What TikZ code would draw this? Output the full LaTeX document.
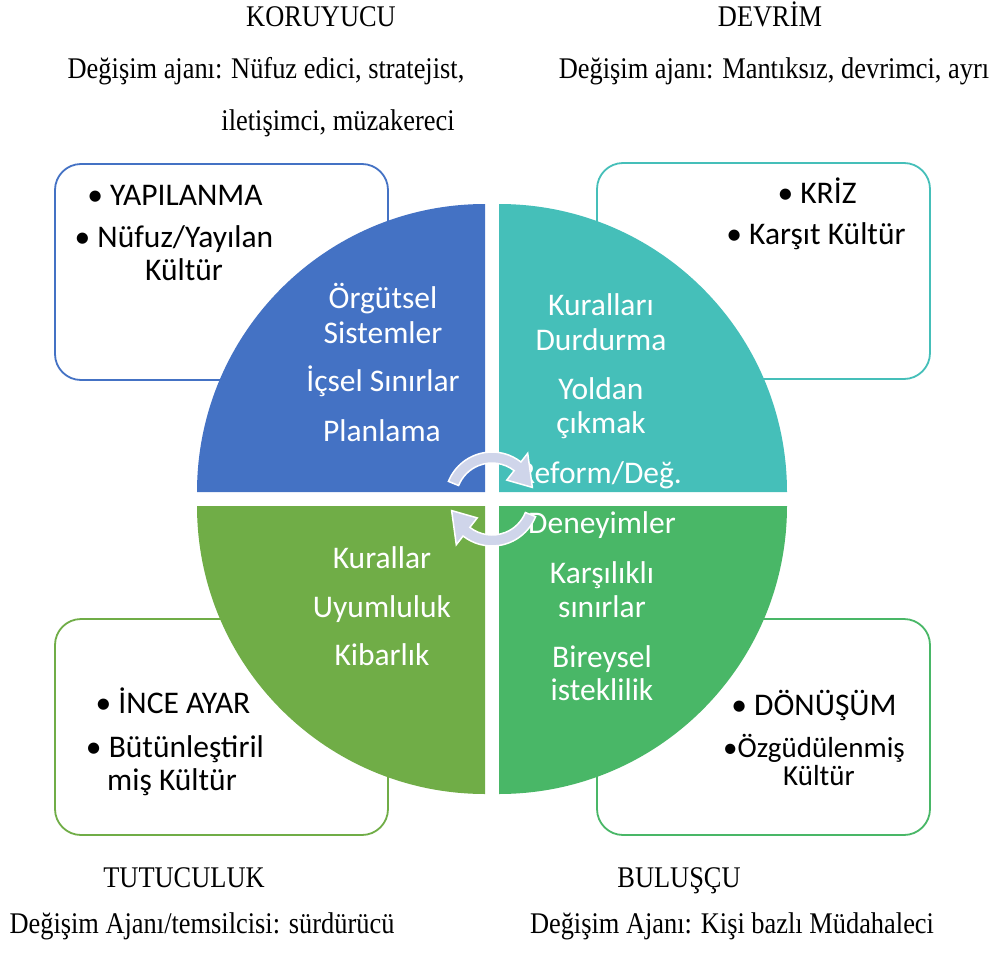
\documentclass[tikz,border=0pt]{standalone}
\usepackage{fontspec}
\setmainfont{Liberation Serif}
\newfontfamily\carlito{Carlito}
\usetikzlibrary{calc}
\definecolor{qblue}{RGB}{68,114,196}
\definecolor{qteal}{RGB}{69,191,185}
\definecolor{qgreen}{RGB}{112,173,71}
\definecolor{qlime}{RGB}{73,183,103}
\definecolor{qarrow}{RGB}{207,213,234}
\tikzset{
  hdtext/.style={anchor=base,inner sep=0pt,font=\fontsize{30}{34}\selectfont,xscale=0.88,transform shape},
  btext/.style={anchor=base,inner sep=0pt,font=\carlito\fontsize{31.5}{34}\selectfont},
  stext/.style={btext,font=\carlito\fontsize{29}{32}\selectfont},
  wtext/.style={btext,text=white},
  card/.style={line width=1.8pt,rounded corners=26pt,fill=white},
  cycarrow/.style={fill=qarrow,draw=white,line width=1.5pt}
}

\begin{document}
\begin{tikzpicture}[x=1pt,y=1pt]
	\useasboundingbox (0,0) rectangle (994,-953);
	% headings
	\node[hdtext] (koru) at (321,-26) {KORUYUCU};
	\node[hdtext] (koruA) at (266,-78) {Değişim ajanı: Nüfuz edici, stratejist,};
	\node[hdtext] (koruB) at (338,-130) {iletişimci, müzakereci};
	\node[hdtext] (devr) at (770,-26) {DEVRİM};
	\node[hdtext] (devrA) at (774,-78) {Değişim ajanı: Mantıksız, devrimci, ayrı};
	\node[hdtext] (tutu) at (184,-887) {TUTUCULUK};
	\node[hdtext] (tutuA) at (202,-933) {Değişim Ajanı/temsilcisi: sürdürücü};
	\node[hdtext] (bulu) at (679,-887) {BULUŞÇU};
	\node[hdtext] (buluA) at (732,-933) {Değişim Ajanı: Kişi bazlı Müdahaleci};
	% boxes
	\draw[card,draw=qblue] (55,-164) rectangle (388,-380);
	\draw[card,draw=qteal] (597,-163) rectangle (930,-379);
	\draw[card,draw=qgreen] (55,-619) rectangle (388,-835);
	\draw[card,draw=qlime] (597,-619) rectangle (930,-835);
	% quadrants
	\coordinate (cyc) at (492,-499);
	\fill[qblue] (485,-492) -- ++(-288,0) arc[start angle=180,end angle=90,radius=288] -- cycle;
	\fill[qteal] (499,-492) -- ++(0,288) arc[start angle=90,end angle=0,radius=288] -- cycle;
	\fill[qgreen] (485,-506) -- ++(0,-288) arc[start angle=270,end angle=180,radius=288] -- cycle;
	\fill[qlime] (499,-506) -- ++(288,0) arc[start angle=0,end angle=-90,radius=288] -- cycle;
	% box texts
	\node[btext] (tl1) at (175,-205) {• YAPILANMA};
	\node[btext] (tl2) at (174,-247) {• Nüfuz/Yayılan};
	\node[btext] (tl3) at (184,-280) {Kültür};
	\node[btext] (tr1) at (817,-203) {• KRİZ};
	\node[btext] (tr2) at (816,-244) {• Karşıt Kültür};
	\node[btext] (bl1) at (173,-713) {• İNCE AYAR};
	\node[btext] (bl2) at (175,-757) {• Bütünleştiril};
	\node[btext] (bl3) at (172,-790) {miş Kültür};
	\node[btext] (br1) at (814,-715) {• DÖNÜŞÜM};
	\node[stext] (br2) at (814,-757) {•Özgüdülenmiş};
	\node[stext] (br3) at (819,-785) {Kültür};
	% quadrant texts
	\node[wtext] (q1a) at (383,-308) {Örgütsel};
	\node[wtext] (q1b) at (383,-343) {Sistemler};
	\node[wtext] (q1c) at (383,-391) {İçsel Sınırlar};
	\node[wtext] (q1d) at (382,-441) {Planlama};
	\node[wtext] (q2a) at (601,-315) {Kuralları};
	\node[wtext] (q2b) at (601,-350) {Durdurma};
	\node[wtext] (q2c) at (601,-399) {Yoldan};
	\node[wtext] (q2d) at (601,-433) {çıkmak};
	\node[wtext] (q2e) at (600,-483) {Reform/Değ.};
	\node[wtext] (q4a) at (602,-533) {Deneyimler};
	\node[wtext] (q4b) at (602,-583) {Karşılıklı};
	\node[wtext] (q4c) at (602,-617) {sınırlar};
	\node[wtext] (q4d) at (602,-667) {Bireysel};
	\node[wtext] (q4e) at (602,-700) {isteklilik};
	\node[wtext] (q3a) at (382,-568) {Kurallar};
	\node[wtext] (q3b) at (382,-617) {Uyumluluk};
	\node[wtext] (q3c) at (382,-665) {Kibarlık};
	% circular arrows
	\draw[cycarrow] ($(cyc)+(158:47)$) arc[start angle=158,end angle=52,radius=47]
		-- ($(cyc)+(52:58)$) -- ($(cyc)+(16:42)$) -- ($(cyc)+(52:24)$) -- ($(cyc)+(52:36)$)
		arc[start angle=52,end angle=158,radius=36] -- cycle;
	\draw[cycarrow] ($(cyc)+(-22:47)$) arc[start angle=-22,end angle=-128,radius=47]
		-- ($(cyc)+(-128:58)$) -- ($(cyc)+(-164:42)$) -- ($(cyc)+(-128:24)$) -- ($(cyc)+(-128:36)$)
		arc[start angle=-128,end angle=-22,radius=36] -- cycle;
\end{tikzpicture}
\end{document}
